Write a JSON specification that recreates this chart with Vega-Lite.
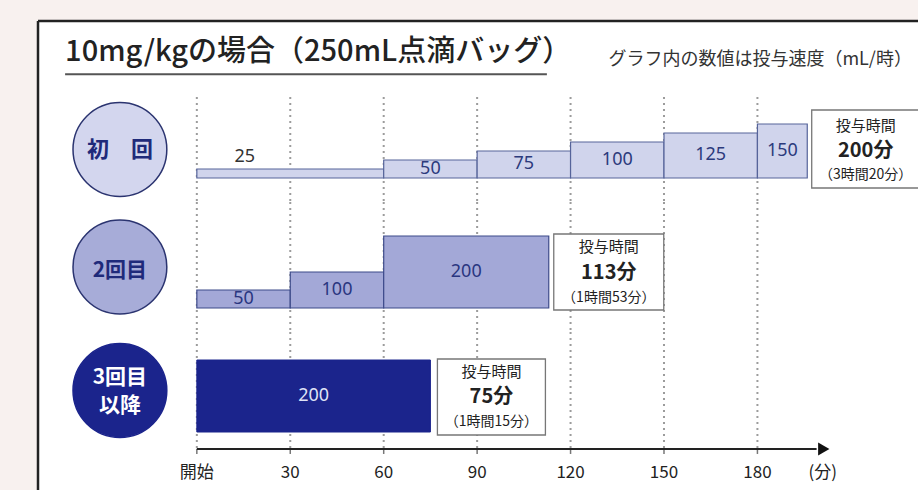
{
  "$schema": "https://vega.github.io/schema/vega-lite/v6.json",
  "background": "#f8f1ef",
  "padding": {"left": 36, "top": 19, "right": 0, "bottom": 0},
  "spacing": 0,
  "bounds": "flush",
  "config": {"view": {"fill": "white", "stroke": null}, "font": "Noto Sans CJK JP"},
  "resolve": {"scale": {"x": "independent", "y": "independent"}},
  "datasets": {
    "one": [{}],
    "ticks": [{"t": 0}, {"t": 30}, {"t": 60}, {"t": 90}, {"t": 120}, {"t": 150}, {"t": 180}],
    "axislabels": [
      {"t": 0, "label": "開始"}, {"t": 30, "label": "30"}, {"t": 60, "label": "60"}, {"t": 90, "label": "90"},
      {"t": 120, "label": "120"}, {"t": 150, "label": "150"}, {"t": 180, "label": "180"}, {"t": 201, "label": "(分)"}
    ],
    "head": [{"title": "10mg/kgの場合（250mL点滴バッグ）", "note": "グラフ内の数値は投与速度（mL/時）"}],
    "r1": [
      {"start": 0, "end": 60, "rate": 25},
      {"start": 60, "end": 90, "rate": 50},
      {"start": 90, "end": 120, "rate": 75},
      {"start": 120, "end": 150, "rate": 100},
      {"start": 150, "end": 180, "rate": 125},
      {"start": 180, "end": 196, "rate": 150}
    ],
    "t1": [{"name": "初　回", "total": 200, "l1": "投与時間", "l2": "200分", "l3": "（3時間20分）"}],
    "r2": [
      {"start": 0, "end": 30, "rate": 50},
      {"start": 30, "end": 60, "rate": 100},
      {"start": 60, "end": 113, "rate": 200}
    ],
    "t2": [{"name": "2回目", "total": 113, "l1": "投与時間", "l2": "113分", "l3": "（1時間53分）"}],
    "r3": [{"start": 0, "end": 75, "rate": 200}],
    "t3": [{"name": "3回目", "name2": "以降", "total": 75, "l1": "投与時間", "l2": "75分", "l3": "（1時間15分）"}]
  },
  "vconcat": [
    {
      "width": 882, "height": 76,
      "data": {"name": "head"},
      "layer": [
        {"mark": {"type": "rule", "stroke": "#222", "strokeWidth": 2.5},
         "encoding": {"x": {"datum": -51, "type": "quantitative", "scale": {"domain": [-51, 232.2], "nice": false}, "axis": null},
                      "x2": {"datum": 232.2},
                      "y": {"datum": 1, "type": "quantitative", "scale": {"domain": [0, 1], "nice": false}, "axis": null}}},
        {"mark": {"type": "rule", "stroke": "#222", "strokeWidth": 2.5},
         "encoding": {"x": {"datum": -51, "type": "quantitative", "axis": null}}},
        {"mark": {"type": "rule", "stroke": "#555", "strokeWidth": 2},
         "encoding": {"x": {"datum": -42.3, "type": "quantitative", "axis": null}, "x2": {"datum": 112.4},
                      "y": {"datum": 0.3, "type": "quantitative", "axis": null}}},
        {"mark": {"type": "text", "align": "left", "baseline": "middle", "fontSize": 29, "fontWeight": 500, "color": "#222"},
         "encoding": {"x": {"datum": -42.3, "type": "quantitative", "axis": null},
                      "y": {"datum": 0.59, "type": "quantitative", "axis": null},
                      "text": {"field": "title"}}},
        {"mark": {"type": "text", "align": "right", "baseline": "middle", "fontSize": 18, "color": "#333"},
         "encoding": {"x": {"datum": 229.6, "type": "quantitative", "axis": null},
                      "y": {"datum": 0.487, "type": "quantitative", "axis": null},
                      "text": {"field": "note"}}}
      ]
    },
    {
      "width": 882, "height": 105,
      "resolve": {"scale": {"y": "independent"}},
      "layer": [
        {"data": {"name": "ticks"},
         "mark": {"type": "rule", "stroke": "#9c9c9c", "strokeWidth": 2, "strokeDash": [2, 4]},
         "encoding": {"x": {"field": "t", "type": "quantitative", "scale": {"domain": [-51, 232.2], "nice": false}, "axis": null}}},
        {"data": {"name": "one"},
         "mark": {"type": "rule", "stroke": "#222", "strokeWidth": 2.5},
         "encoding": {"x": {"datum": -51, "type": "quantitative", "axis": null}}},
        {"data": {"name": "r1"},
         "mark": {"type": "bar", "fill": "#d0d4ec", "stroke": "#56649a", "strokeWidth": 1.2},
         "encoding": {"x": {"field": "start", "type": "quantitative", "axis": null}, "x2": {"field": "end"},
                      "y": {"field": "rate", "type": "quantitative", "scale": {"domain": [-66.7, 225], "nice": false, "zero": false}, "axis": null},
                      "y2": {"datum": 0}}},
        {"data": {"name": "r1"},
         "transform": [{"filter": "datum.rate == 25"}],
         "mark": {"type": "text", "align": "center", "baseline": "middle", "font": "Noto Sans", "fontSize": 18, "color": "#333", "dx": 48, "dy": -12},
         "encoding": {"x": {"field": "start", "type": "quantitative", "axis": null},
                      "y": {"field": "rate", "type": "quantitative", "scale": {"domain": [-66.7, 225], "nice": false, "zero": false}, "axis": null},
                      "text": {"field": "rate"}}},
        {"data": {"name": "r1"},
         "transform": [{"filter": "datum.rate > 25"}, {"fold": ["start", "end"], "as": ["k", "v"]},
                       {"aggregate": [{"op": "mean", "field": "v", "as": "mid"}], "groupby": ["rate"]}],
         "mark": {"type": "text", "align": "center", "baseline": "middle", "font": "Noto Sans", "fontSize": 18, "color": "#2c3a7c"},
         "encoding": {"x": {"field": "mid", "type": "quantitative", "axis": null},
                      "y": {"field": "rate", "type": "quantitative", "scale": {"domain": [-133.4, 450], "nice": false, "zero": false}, "axis": null},
                      "text": {"field": "rate"}}},
        {"data": {"name": "t1"},
         "mark": {"type": "circle", "size": 8800, "fill": "#d3d6ee", "stroke": "#2b3470", "strokeWidth": 1.5, "opacity": 1},
         "encoding": {"x": {"datum": -24.7, "type": "quantitative", "axis": null}}},
        {"data": {"name": "t1"},
         "mark": {"type": "text", "align": "center", "baseline": "middle", "fontSize": 22, "fontWeight": "bold", "color": "#1f2a7a"},
         "encoding": {"x": {"datum": -24.7, "type": "quantitative", "axis": null}, "text": {"field": "name"}}},
        {"data": {"name": "t1"},
         "mark": {"type": "rect", "fill": "white", "stroke": "#777", "strokeWidth": 1.3, "xOffset": -8, "x2Offset": 99, "yOffset": -68, "y2Offset": 10},
         "encoding": {"x": {"field": "total", "type": "quantitative", "axis": null}, "x2": {"field": "total"},
                      "y": {"datum": 0, "type": "quantitative", "scale": {"domain": [-66.7, 225], "nice": false, "zero": false}, "axis": null}, "y2": {"datum": 0}}},
        {"data": {"name": "t1"},
         "mark": {"type": "text", "align": "center", "baseline": "middle", "fontSize": 15, "color": "#222", "dx": 46, "dy": -52},
         "encoding": {"x": {"field": "total", "type": "quantitative", "axis": null},
                      "y": {"datum": 0, "type": "quantitative", "scale": {"domain": [-66.7, 225], "nice": false, "zero": false}, "axis": null}, "text": {"field": "l1"}}},
        {"data": {"name": "t1"},
         "mark": {"type": "text", "align": "center", "baseline": "middle", "fontSize": 20, "fontWeight": "bold", "color": "#222", "dx": 46, "dy": -27},
         "encoding": {"x": {"field": "total", "type": "quantitative", "axis": null},
                      "y": {"datum": 0, "type": "quantitative", "scale": {"domain": [-66.7, 225], "nice": false, "zero": false}, "axis": null}, "text": {"field": "l2"}}},
        {"data": {"name": "t1"},
         "mark": {"type": "text", "align": "center", "baseline": "middle", "fontSize": 14, "color": "#222", "dx": 46, "dy": -3},
         "encoding": {"x": {"field": "total", "type": "quantitative", "axis": null},
                      "y": {"datum": 0, "type": "quantitative", "scale": {"domain": [-66.7, 225], "nice": false, "zero": false}, "axis": null}, "text": {"field": "l3"}}}
      ]
    },
    {
      "width": 882, "height": 130,
      "resolve": {"scale": {"y": "independent"}},
      "layer": [
        {"data": {"name": "ticks"},
         "mark": {"type": "rule", "stroke": "#9c9c9c", "strokeWidth": 2, "strokeDash": [2, 4]},
         "encoding": {"x": {"field": "t", "type": "quantitative", "scale": {"domain": [-51, 232.2], "nice": false}, "axis": null}}},
        {"data": {"name": "one"},
         "mark": {"type": "rule", "stroke": "#222", "strokeWidth": 2.5},
         "encoding": {"x": {"datum": -51, "type": "quantitative", "axis": null}}},
        {"data": {"name": "r2"},
         "mark": {"type": "bar", "fill": "#a3a8d7", "stroke": "#3d4a8a", "strokeWidth": 1.2},
         "encoding": {"x": {"field": "start", "type": "quantitative", "axis": null}, "x2": {"field": "end"},
                      "y": {"field": "rate", "type": "quantitative", "scale": {"domain": [-66.7, 294.4], "nice": false, "zero": false}, "axis": null},
                      "y2": {"datum": 0}}},
        {"data": {"name": "r2"},
         "transform": [{"fold": ["start", "end"], "as": ["k", "v"]},
                       {"aggregate": [{"op": "mean", "field": "v", "as": "mid"}], "groupby": ["rate"]}],
         "mark": {"type": "text", "align": "center", "baseline": "middle", "font": "Noto Sans", "fontSize": 18, "color": "#2a3680"},
         "encoding": {"x": {"field": "mid", "type": "quantitative", "axis": null},
                      "y": {"field": "rate", "type": "quantitative", "scale": {"domain": [-133.4, 588.8], "nice": false, "zero": false}, "axis": null},
                      "text": {"field": "rate"}}},
        {"data": {"name": "t2"},
         "mark": {"type": "circle", "size": 8800, "fill": "#a7acd8", "stroke": "#2b3470", "strokeWidth": 1.5, "opacity": 1},
         "encoding": {"x": {"datum": -24.7, "type": "quantitative", "axis": null}}},
        {"data": {"name": "t2"},
         "mark": {"type": "text", "align": "center", "baseline": "middle", "fontSize": 21, "fontWeight": "bold", "color": "#1f2a7a", "dy": 4},
         "encoding": {"x": {"datum": -24.7, "type": "quantitative", "axis": null}, "text": {"field": "name"}}},
        {"data": {"name": "t2"},
         "mark": {"type": "rect", "fill": "white", "stroke": "#777", "strokeWidth": 1.3, "xOffset": 5, "x2Offset": 115, "yOffset": -74, "y2Offset": 2},
         "encoding": {"x": {"field": "total", "type": "quantitative", "axis": null}, "x2": {"field": "total"},
                      "y": {"datum": 0, "type": "quantitative", "scale": {"domain": [-66.7, 294.4], "nice": false, "zero": false}, "axis": null}, "y2": {"datum": 0}}},
        {"data": {"name": "t2"},
         "mark": {"type": "text", "align": "center", "baseline": "middle", "fontSize": 15, "color": "#222", "dx": 60, "dy": -61},
         "encoding": {"x": {"field": "total", "type": "quantitative", "axis": null},
                      "y": {"datum": 0, "type": "quantitative", "scale": {"domain": [-66.7, 294.4], "nice": false, "zero": false}, "axis": null}, "text": {"field": "l1"}}},
        {"data": {"name": "t2"},
         "mark": {"type": "text", "align": "center", "baseline": "middle", "fontSize": 20, "fontWeight": "bold", "color": "#222", "dx": 60, "dy": -35},
         "encoding": {"x": {"field": "total", "type": "quantitative", "axis": null},
                      "y": {"datum": 0, "type": "quantitative", "scale": {"domain": [-66.7, 294.4], "nice": false, "zero": false}, "axis": null}, "text": {"field": "l2"}}},
        {"data": {"name": "t2"},
         "mark": {"type": "text", "align": "center", "baseline": "middle", "fontSize": 14, "color": "#222", "dx": 60, "dy": -10},
         "encoding": {"x": {"field": "total", "type": "quantitative", "axis": null},
                      "y": {"datum": 0, "type": "quantitative", "scale": {"domain": [-66.7, 294.4], "nice": false, "zero": false}, "axis": null}, "text": {"field": "l3"}}}
      ]
    },
    {
      "width": 882, "height": 117,
      "resolve": {"scale": {"y": "independent"}},
      "layer": [
        {"data": {"name": "one"},
         "mark": {"type": "rect", "fill": "white"},
         "encoding": {"x": {"datum": -51, "type": "quantitative", "scale": {"domain": [-51, 232.2], "nice": false}, "axis": null},
                      "x2": {"datum": 232.2},
                      "y": {"datum": -47.2, "type": "quantitative", "scale": {"domain": [-47.2, 277.8], "nice": false, "zero": false}, "axis": null},
                      "y2": {"datum": -167}}},
        {"data": {"name": "ticks"},
         "mark": {"type": "rule", "stroke": "#9c9c9c", "strokeWidth": 2, "strokeDash": [2, 4]},
         "encoding": {"x": {"field": "t", "type": "quantitative", "axis": null}}},
        {"data": {"name": "ticks"},
         "mark": {"type": "rule", "stroke": "#777", "strokeWidth": 1.5},
         "encoding": {"x": {"field": "t", "type": "quantitative", "axis": null},
                      "y": {"datum": -47.2, "type": "quantitative", "scale": {"domain": [-47.2, 277.8], "nice": false, "zero": false}, "axis": null},
                      "y2": {"datum": -61}}},
        {"data": {"name": "axislabels"},
         "mark": {"type": "text", "align": "center", "baseline": "middle", "fontSize": 17, "color": "#222", "dy": 24},
         "encoding": {"x": {"field": "t", "type": "quantitative", "axis": null},
                      "y": {"datum": -47.2, "type": "quantitative", "scale": {"domain": [-47.2, 277.8], "nice": false, "zero": false}, "axis": null},
                      "text": {"field": "label"}}},
        {"data": {"name": "one"},
         "mark": {"type": "rule", "stroke": "#222", "strokeWidth": 2.5},
         "encoding": {"x": {"datum": -51, "type": "quantitative", "axis": null},
                      "y": {"datum": 277.8, "type": "quantitative", "scale": {"domain": [-47.2, 277.8], "nice": false, "zero": false}, "axis": null},
                      "y2": {"datum": -167}}},
        {"data": {"name": "r3"},
         "mark": {"type": "bar", "fill": "#1b248c", "stroke": "#1b248c", "strokeWidth": 1},
         "encoding": {"x": {"field": "start", "type": "quantitative", "axis": null}, "x2": {"field": "end"},
                      "y": {"field": "rate", "type": "quantitative", "scale": {"domain": [-47.2, 277.8], "nice": false, "zero": false}, "axis": null},
                      "y2": {"datum": 0}}},
        {"data": {"name": "r3"},
         "transform": [{"fold": ["start", "end"], "as": ["k", "v"]},
                       {"aggregate": [{"op": "mean", "field": "v", "as": "mid"}], "groupby": ["rate"]}],
         "mark": {"type": "text", "align": "center", "baseline": "middle", "font": "Noto Sans", "fontSize": 18, "color": "#dfe3f6"},
         "encoding": {"x": {"field": "mid", "type": "quantitative", "axis": null},
                      "y": {"field": "rate", "type": "quantitative", "scale": {"domain": [-94.4, 555.6], "nice": false, "zero": false}, "axis": null},
                      "text": {"field": "rate"}}},
        {"data": {"name": "t3"},
         "mark": {"type": "circle", "size": 8800, "fill": "#1b248c", "stroke": "#1b248c", "strokeWidth": 1.5, "opacity": 1},
         "encoding": {"x": {"datum": -24.7, "type": "quantitative", "axis": null}}},
        {"data": {"name": "t3"},
         "mark": {"type": "text", "align": "center", "baseline": "middle", "fontSize": 21, "fontWeight": "bold", "color": "white", "dy": -13},
         "encoding": {"x": {"datum": -24.7, "type": "quantitative", "axis": null}, "text": {"field": "name"}}},
        {"data": {"name": "t3"},
         "mark": {"type": "text", "align": "center", "baseline": "middle", "fontSize": 21, "fontWeight": "bold", "color": "white", "dy": 15},
         "encoding": {"x": {"datum": -24.7, "type": "quantitative", "axis": null}, "text": {"field": "name2"}}},
        {"data": {"name": "t3"},
         "mark": {"type": "rect", "fill": "white", "stroke": "#777", "strokeWidth": 1.3, "xOffset": 7, "x2Offset": 115, "yOffset": -73, "y2Offset": 3},
         "encoding": {"x": {"field": "total", "type": "quantitative", "axis": null}, "x2": {"field": "total"},
                      "y": {"datum": 0, "type": "quantitative", "scale": {"domain": [-47.2, 277.8], "nice": false, "zero": false}, "axis": null}, "y2": {"datum": 0}}},
        {"data": {"name": "t3"},
         "mark": {"type": "text", "align": "center", "baseline": "middle", "fontSize": 15, "color": "#222", "dx": 61, "dy": -60},
         "encoding": {"x": {"field": "total", "type": "quantitative", "axis": null},
                      "y": {"datum": 0, "type": "quantitative", "scale": {"domain": [-47.2, 277.8], "nice": false, "zero": false}, "axis": null}, "text": {"field": "l1"}}},
        {"data": {"name": "t3"},
         "mark": {"type": "text", "align": "center", "baseline": "middle", "fontSize": 20, "fontWeight": "bold", "color": "#222", "dx": 61, "dy": -35},
         "encoding": {"x": {"field": "total", "type": "quantitative", "axis": null},
                      "y": {"datum": 0, "type": "quantitative", "scale": {"domain": [-47.2, 277.8], "nice": false, "zero": false}, "axis": null}, "text": {"field": "l2"}}},
        {"data": {"name": "t3"},
         "mark": {"type": "text", "align": "center", "baseline": "middle", "fontSize": 14, "color": "#222", "dx": 61, "dy": -10},
         "encoding": {"x": {"field": "total", "type": "quantitative", "axis": null},
                      "y": {"datum": 0, "type": "quantitative", "scale": {"domain": [-47.2, 277.8], "nice": false, "zero": false}, "axis": null}, "text": {"field": "l3"}}},
        {"data": {"name": "one"},
         "mark": {"type": "rule", "stroke": "#222", "strokeWidth": 2},
         "encoding": {"x": {"datum": 0, "type": "quantitative", "axis": null}, "x2": {"datum": 199},
                      "y": {"datum": -47.2, "type": "quantitative", "scale": {"domain": [-47.2, 277.8], "nice": false, "zero": false}, "axis": null}}},
        {"data": {"name": "one"},
         "mark": {"type": "point", "shape": "triangle-right", "filled": true, "size": 170, "color": "#111", "opacity": 1},
         "encoding": {"x": {"datum": 201.3, "type": "quantitative", "axis": null},
                      "y": {"datum": -47.2, "type": "quantitative", "scale": {"domain": [-47.2, 277.8], "nice": false, "zero": false}, "axis": null}}}
      ]
    }
  ]
}
